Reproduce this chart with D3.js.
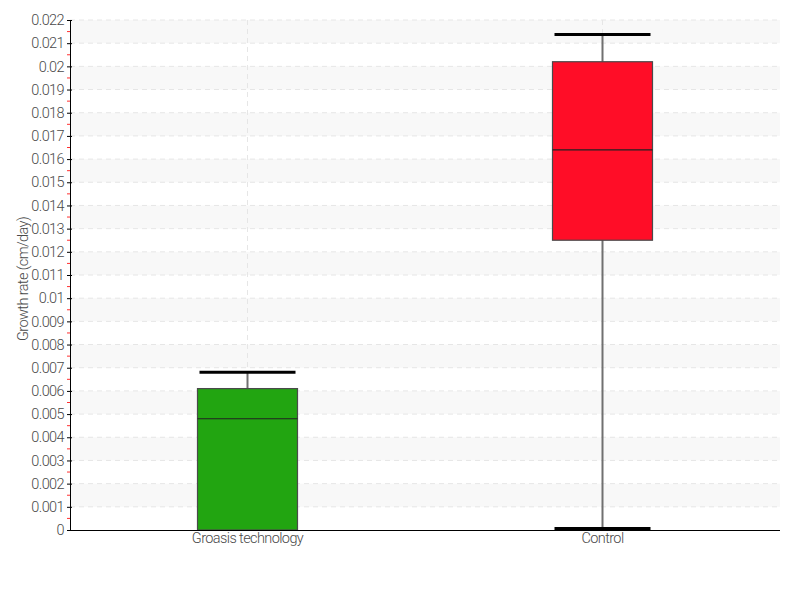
<!DOCTYPE html>
<html><head><meta charset="utf-8">
<script src="https://cdn.jsdelivr.net/npm/d3@7"></script>
<style>body{margin:0;background:#fff}</style>
</head><body>
<svg id="c" width="800" height="600"></svg>
<script>
const categories = ["Groasis technology", "Control"];
const mins    = [0, 0];
const q1s     = [0, 0.0125];
const medians = [0.0048, 0.0164];
const q3s     = [0.0061, 0.0202];
const maxs    = [0.0068, 0.02137];
const colors  = ["#22a511", "#ff0d27"];
const yTicks = d3.range(0, 0.0221, 0.001).map(v => +v.toFixed(3));
const yLabel = "Growth rate (cm/day)";

const svg = d3.select("#c");
const font = "Roboto, sans-serif";
const fw = 300, ls = "-0.6px", fc = "#4a4a4a", fs = 14.5;
const L = 70, R = 780, T = 20, B = 530;
const x = d3.scaleBand().domain(categories).range([L, R]).padding(0);
const y = d3.scaleLinear().domain([0, 0.022]).range([B, T]);

// bands
const g = svg.append("g");
yTicks.slice(0, -1).forEach((v, i) => {
  if (i % 2 === 1) g.append("rect").attr("x", L).attr("width", R - L)
    .attr("y", y(v + 0.001)).attr("height", y(v) - y(v + 0.001)).attr("fill", "#f8f8f8");
});
// grid lines
g.selectAll(".hg").data(yTicks.slice(1)).join("line")
  .attr("x1", L).attr("x2", R).attr("y1", d => y(d)).attr("y2", d => y(d))
  .attr("stroke", "#e6e6e6").attr("stroke-dasharray", "5,4");
g.selectAll(".vg").data(categories).join("line")
  .attr("x1", d => x(d) + x.bandwidth() / 2).attr("x2", d => x(d) + x.bandwidth() / 2)
  .attr("y1", T).attr("y2", B)
  .attr("stroke", "#e6e6e6").attr("stroke-dasharray", "5,4");

// boxes
const bw = 100, cw = 96;
categories.forEach((c, i) => {
  const cx = x(c) + x.bandwidth() / 2;
  svg.append("line").attr("x1", cx).attr("x2", cx).attr("y1", y(maxs[i])).attr("y2", y(mins[i]))
    .attr("stroke", "#707070").attr("stroke-width", 2);
  [maxs[i], mins[i]].forEach(v => {
    svg.append("line").attr("x1", cx - cw / 2).attr("x2", cx + cw / 2)
      .attr("y1", y(v) - (v === 0 ? 1.5 : 0)).attr("y2", y(v) - (v === 0 ? 1.5 : 0))
      .attr("stroke", "#000").attr("stroke-width", 3);
  });
  svg.append("rect").attr("x", cx - bw / 2).attr("width", bw)
    .attr("y", y(q3s[i])).attr("height", y(q1s[i]) - y(q3s[i]))
    .attr("fill", colors[i]).attr("stroke", "#4a4a4a").attr("stroke-width", 1.2);
  svg.append("line").attr("x1", cx - bw / 2).attr("x2", cx + bw / 2)
    .attr("y1", y(medians[i])).attr("y2", y(medians[i])).attr("stroke", "#222").attr("stroke-width", 1.2);
});

// minor ticks
svg.selectAll(".mt").data(yTicks.slice(0, -1)).join("line")
  .attr("x1", L - 3).attr("x2", L).attr("y1", d => y(d + 0.0005)).attr("y2", d => y(d + 0.0005))
  .attr("stroke", "#ff3030").attr("stroke-width", 1);

// y axis
const ya = svg.append("g").attr("transform", `translate(${L},0)`)
  .call(d3.axisLeft(y).tickValues(yTicks).tickFormat(d => d3.format("")(+d.toFixed(3))).tickSize(3).tickPadding(3));
ya.select(".domain").attr("stroke", "#000");
ya.selectAll(".tick line").attr("stroke", "#000").attr("x2", 2).attr("x1", -3);
ya.selectAll("text").attr("font-family", font).attr("font-weight", fw).attr("letter-spacing", ls)
  .attr("font-size", fs).attr("fill", fc);

// x axis
const xa = svg.append("g").attr("transform", `translate(0,${B})`)
  .call(d3.axisBottom(x).tickSize(0).tickPadding(3));
xa.select(".domain").attr("stroke", "#000").attr("d", `M${L},0.5H${R}`);
xa.selectAll("text").attr("font-family", font).attr("font-weight", fw).attr("letter-spacing", ls)
  .attr("font-size", fs).attr("fill", fc);

svg.append("text").attr("transform", `translate(28,${(T + B) / 2 + 4}) rotate(-90)`)
  .attr("text-anchor", "middle").attr("font-family", font).attr("font-weight", fw).attr("letter-spacing", ls)
  .attr("font-size", fs).attr("fill", fc)
  .text(yLabel);
</script>
</body></html>
